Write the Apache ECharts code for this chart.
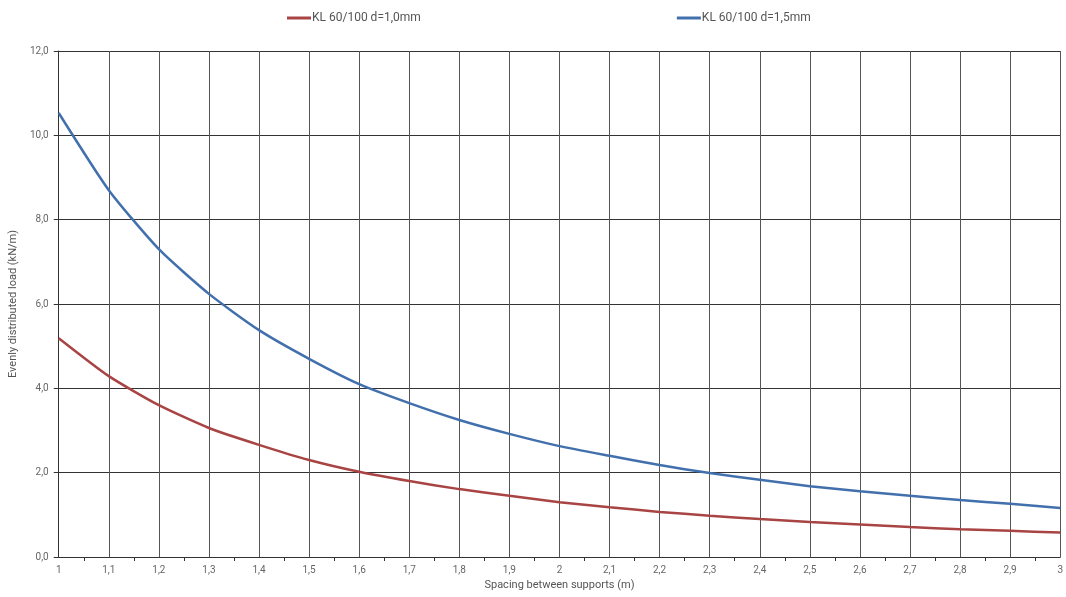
<!DOCTYPE html>
<html>

<head>
    <meta charset="utf-8" />
    <script src="https://cdn.jsdelivr.net/npm/echarts@6/dist/echarts.min.js"></script>
</head>

<body style="margin:0">
    <div id="main" style="width: 1066px;height: 597px;"></div>

    <script type="text/javascript">
        // spacing between supports (m)
        var spacing = [1.0, 1.1, 1.2, 1.3, 1.4, 1.5, 1.6, 1.7, 1.8, 1.9, 2.0,
            2.1, 2.2, 2.3, 2.4, 2.5, 2.6, 2.7, 2.8, 2.9, 3.0];
        // load values (kN/m)
        var loadD10 = [5.19, 4.29, 3.60, 3.06, 2.66, 2.30, 2.02, 1.80, 1.61, 1.45, 1.30,
            1.18, 1.07, 0.98, 0.90, 0.83, 0.77, 0.71, 0.66, 0.62, 0.58];
        var loadD15 = [10.53, 8.70, 7.30, 6.24, 5.38, 4.70, 4.10, 3.65, 3.25, 2.92, 2.63,
            2.40, 2.18, 1.99, 1.83, 1.68, 1.56, 1.45, 1.35, 1.26, 1.16];
        var seriesNames = ['KL 60/100 d=1,0mm', 'KL 60/100 d=1,5mm'];

        function pairs(xs, ys) {
            return xs.map(function (x, i) { return [x, ys[i]]; });
        }

        var chartDom = document.getElementById('main');
        var myChart = echarts.init(chartDom);
        var option;

        var fontFam = 'Roboto, "Noto Sans", sans-serif';

        option = {
            animation: false,
            textStyle: { fontFamily: fontFam },
            color: ['#a94444', '#4270ad'],
            legend: {
                top: 7,
                left: 282,
                itemGap: 256,
                icon: 'rect',
                itemWidth: 24,
                itemHeight: 3,
                textStyle: { fontSize: 12, color: '#555', padding: [0, 0, 0, -4] },
                data: seriesNames
            },
            grid: {
                left: 57,
                right: 4,
                top: 51,
                bottom: 40
            },
            xAxis: {
                type: 'value',
                min: 1,
                max: 3,
                interval: 0.1,
                name: 'Spacing between supports (m)',
                nameLocation: 'middle',
                nameGap: 22,
                nameTextStyle: { fontSize: 11, color: '#555' },
                axisLine: { lineStyle: { color: '#333', width: 1 } },
                axisTick: { show: false },
                minorTick: { show: true, splitNumber: 2, length: 4, lineStyle: { color: '#333' } },
                splitLine: { show: true, lineStyle: { color: '#555', width: 1 } },
                axisLabel: {
                    fontSize: 10,
                    color: '#666',
                    margin: 8,
                    formatter: function (v) {
                        var r = Math.round(v * 10) / 10;
                        return String(r).replace('.', ',');
                    }
                }
            },
            yAxis: {
                type: 'value',
                min: 0,
                max: 12,
                interval: 2,
                name: 'Evenly distributed load (kN/m)',
                nameLocation: 'middle',
                nameGap: 36,
                nameTextStyle: { fontSize: 11, color: '#555' },
                axisLine: { show: true, lineStyle: { color: '#333', width: 1 } },
                axisTick: { show: true, length: 5, lineStyle: { color: '#333' } },
                splitLine: { show: true, lineStyle: { color: '#333', width: 1 } },
                axisLabel: {
                    fontSize: 10,
                    color: '#666',
                    margin: 10,
                    formatter: function (v) { return v.toFixed(1).replace('.', ','); }
                }
            },
            series: [
                {
                    name: seriesNames[0],
                    type: 'line',
                    showSymbol: false,
                    smooth: 0.2,
                    lineStyle: { width: 2.5 },
                    data: pairs(spacing, loadD10)
                },
                {
                    name: seriesNames[1],
                    type: 'line',
                    showSymbol: false,
                    smooth: 0.2,
                    lineStyle: { width: 2.5 },
                    data: pairs(spacing, loadD15)
                }
            ]
        };

        option && myChart.setOption(option);
    </script>
</body>
</html>
